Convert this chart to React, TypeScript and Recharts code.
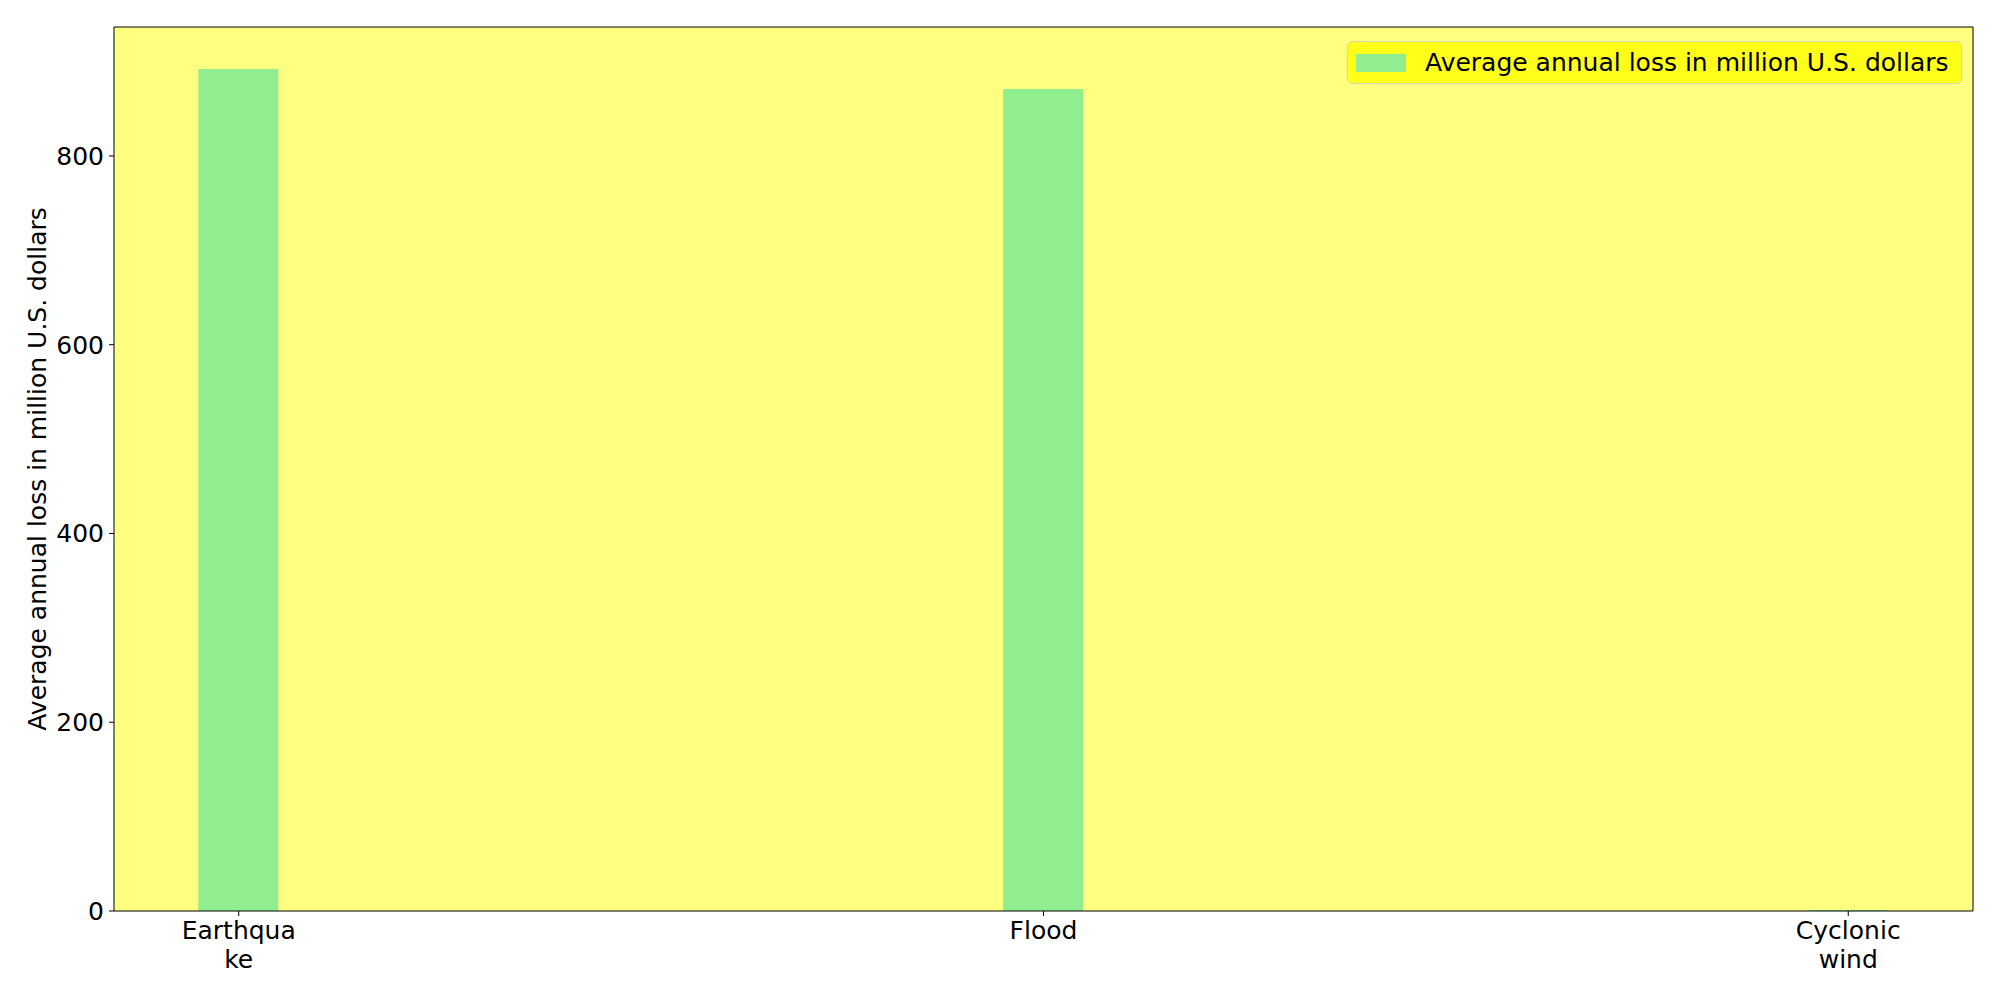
import { BarChart, Bar, XAxis, YAxis, CartesianGrid, Legend, ReferenceLine, Label } from "recharts"

const categories = ["Earthquake", "Flood", "Cyclonic wind"]
const tickLabels = [["Earthqua", "ke"], ["Flood"], ["Cyclonic", "wind"]]
const losses = [892, 871, 1]
const yTicks = [0, 200, 400, 600, 800]
const seriesName = "Average annual loss in million U.S. dollars"

const data = categories.map((name, i) => ({ idx: i, name, loss: losses[i] }))

const FONT = "DejaVu Sans"
const FS = 25
const xDomain: [number, number] = [-0.155, 2.155]
const yMax = 936.6

function CatTick({ x, y, payload }: any) {
  const lines = tickLabels[payload.value] || []
  return (
    <text x={x} y={y} textAnchor="middle" fontSize={FS} fill="#000" fontFamily={FONT}>
      {lines.map((l, i) => (
        <tspan key={i} x={x} dy={i === 0 ? 21 : 29}>
          {l}
        </tspan>
      ))}
    </text>
  )
}

function YTitle(props: any) {
  const vb = props.viewBox
  const cy = vb.y + vb.height / 2
  return (
    <text
      x={37}
      y={cy}
      transform={`rotate(-90 37 ${cy})`}
      textAnchor="middle"
      dominantBaseline="central"
      fontSize={FS}
      fontFamily={FONT}
      fill="#000"
    >
      {seriesName}
    </text>
  )
}

function LegendBox() {
  return (
    <div
      style={{
        boxSizing: "border-box",
        width: 615,
        height: 43,
        background: "#ffff1a",
        border: "1px solid #d6d6bd",
        borderRadius: 5,
        display: "flex",
        alignItems: "center",
        fontFamily: FONT,
        fontSize: FS,
        lineHeight: 1,
        color: "#000",
      }}
    >
      <div style={{ marginLeft: 8, width: 50, height: 18, flexShrink: 0, background: "#90ee90" }} />
      <span style={{ marginLeft: 19, whiteSpace: "nowrap" }}>{seriesName}</span>
    </div>
  )
}

export default function App() {
  return (
    <div style={{ position: "absolute", left: 0, top: 0, width: 2000, height: 1000, background: "#fff" }}>
      <BarChart width={2000} height={1000} data={data} margin={{ top: 27, right: 27, bottom: 29, left: 0 }}>
        <CartesianGrid horizontal={false} vertical={false} fill="#ffff80" fillOpacity={1} />
        <XAxis
          type="number"
          dataKey="idx"
          domain={xDomain}
          ticks={[0, 1, 2]}
          allowDataOverflow
          height={60}
          stroke="#000"
          tickSize={5}
          tick={<CatTick />}
          interval={0}
        />
        <YAxis
          type="number"
          domain={[0, yMax]}
          ticks={yTicks}
          allowDataOverflow
          width={114}
          stroke="#000"
          tickSize={5}
          tickMargin={5}
          tick={{ fill: "#000", fontSize: FS, fontFamily: FONT }}
        >
          <Label content={<YTitle />} />
        </YAxis>
        <Legend
          layout="vertical"
          align="center"
          verticalAlign="middle"
          wrapperStyle={{ position: "absolute", left: 1347, top: 41, width: 615, height: 43 }}
          content={() => <LegendBox />}
        />
        <Bar dataKey="loss" name={seriesName} fill="#90ee90" barSize={80} isAnimationActive={false} />
        <ReferenceLine y={yMax} stroke="#000" ifOverflow="visible" />
        <ReferenceLine x={xDomain[1]} stroke="#000" ifOverflow="visible" />
      </BarChart>
    </div>
  )
}
